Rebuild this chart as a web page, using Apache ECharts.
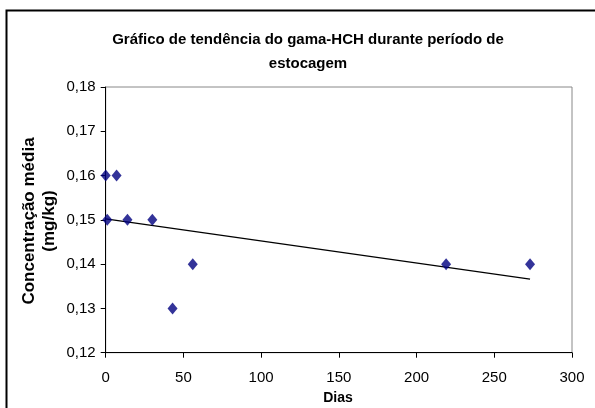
<!DOCTYPE html>
<html><head><meta charset="utf-8">
<script src="https://cdn.jsdelivr.net/npm/echarts@6/dist/echarts.min.js"></script>
<style>html,body{margin:0;padding:0;background:#fff}#c{width:595px;height:408px}</style>
</head><body><div id="c"></div>
<script>
const days = [0, 1, 7, 14, 30, 43, 56, 219, 273];
const conc = [0.16, 0.15, 0.16, 0.15, 0.15, 0.13, 0.14, 0.14, 0.14];
const xTicks = [0, 50, 100, 150, 200, 250, 300];
const yTicks = [0.12, 0.13, 0.14, 0.15, 0.16, 0.17, 0.18];

// linear trend (least squares) from the data
const n = days.length;
const mx = days.reduce((a,b)=>a+b,0)/n, my = conc.reduce((a,b)=>a+b,0)/n;
let sxy=0, sxx=0;
for (let i=0;i<n;i++){sxy+=(days[i]-mx)*(conc[i]-my);sxx+=(days[i]-mx)**2;}
const slope=sxy/sxx, icpt=my-slope*mx;
const xMin=Math.min(...days), xMax=Math.max(...days);
const trend=[[xMin,icpt+slope*xMin],[xMax,icpt+slope*xMax]];

const F='Liberation Sans, Arial, sans-serif';
const chart=echarts.init(document.getElementById('c'),null,{renderer:'canvas'});
chart.setOption({
  animation:false,
  backgroundColor:'#fff',
  title:{text:'Gráfico de tendência do gama-HCH durante período de\nestocagem',left:303,top:23,textAlign:'center',
    textStyle:{fontFamily:F,fontSize:15,fontWeight:'bold',color:'#000',lineHeight:24}},
  graphic:[
    {type:'rect',shape:{x:6.5,y:10.5,width:600,height:410},style:{fill:'none',stroke:'#000',lineWidth:2}},
    {type:'text',x:338,y:398,style:{text:'Dias',font:'bold 14px '+F,fill:'#000',textAlign:'center',textVerticalAlign:'middle'}},
    {type:'text',x:39,y:221,rotation:Math.PI/2,style:{text:'Concentração média\n(mg/kg)',font:'bold 17px '+F,fill:'#000',textAlign:'center',textVerticalAlign:'middle',lineHeight:20}}
  ],
  grid:{left:105.7,right:23,top:87,bottom:55.3,show:true,borderColor:'#888',borderWidth:1,backgroundColor:'#fff'},
  xAxis:{type:'value',min:xTicks[0],max:xTicks[xTicks.length-1],interval:50,
    axisLine:{onZero:false,lineStyle:{color:'#000',width:1}},
    axisTick:{show:true,length:5,lineStyle:{color:'#000'}},
    axisLabel:{fontFamily:F,fontSize:15,color:'#000',margin:18},
    splitLine:{show:false}},
  yAxis:{type:'value',min:yTicks[0],max:yTicks[yTicks.length-1],interval:0.01,
    axisLine:{show:true,onZero:false,lineStyle:{color:'#000',width:1}},
    axisTick:{show:true,length:5,lineStyle:{color:'#000'}},
    axisLabel:{fontFamily:F,fontSize:15,color:'#000',margin:10,formatter:v=>v.toFixed(2).replace('.',',')},
    splitLine:{show:false}},
  series:[
    {type:'line',data:trend,symbol:'none',lineStyle:{color:'#000',width:1.3},z:2},
    {type:'scatter',data:days.map((d,i)=>[d,conc[i]]),symbol:'diamond',symbolSize:[10,12],
      itemStyle:{color:'#000080'},z:3}
  ]
});
</script></body></html>
